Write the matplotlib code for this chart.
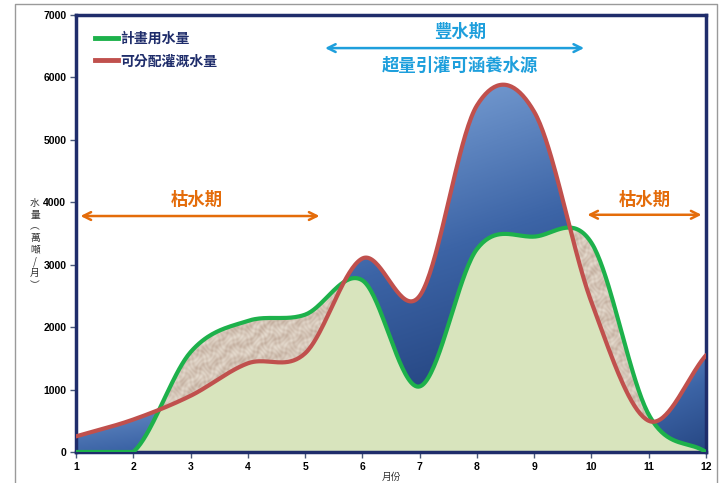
import numpy as np
import matplotlib.pyplot as plt
from matplotlib.colors import LinearSegmentedColormap
from matplotlib.lines import Line2D

plt.rcParams['font.family'] = ['Noto Sans CJK TC', 'DejaVu Sans']

months = [1, 2, 3, 4, 5, 6, 7, 8, 9, 10, 11, 12]
planned = [0, 0, 1600, 2100, 2200, 2750, 1050, 3250, 3450, 3350, 600, 0]      # 計畫用水量
available = [250, 520, 900, 1420, 1580, 3100, 2500, 5550, 5450, 2400, 500, 1550]  # 可分配灌溉水量
xticks = months
yticks = [0, 1000, 2000, 3000, 4000, 5000, 6000, 7000]

GREEN = '#1db14b'
RED = '#c0504d'
NAVY = '#1f2d6b'
ORANGE = '#e46c0a'
CYAN = '#1e9fdc'


def smooth(x, y, n=40):
    # Catmull-Rom style smoothing, like a spreadsheet "smoothed line"
    x = np.asarray(x, float)
    y = np.asarray(y, float)
    xs, ys = [], []
    for i in range(len(x) - 1):
        m0 = (y[i + 1] - y[i - 1]) / 2 if i > 0 else (y[i + 1] - y[i])
        m1 = (y[i + 2] - y[i]) / 2 if i + 2 < len(y) else (y[i + 1] - y[i])
        t = np.linspace(0, 1, n, endpoint=False)
        h00 = 2 * t**3 - 3 * t**2 + 1
        h10 = t**3 - 2 * t**2 + t
        h01 = -2 * t**3 + 3 * t**2
        h11 = t**3 - t**2
        xs.append(x[i] + t * (x[i + 1] - x[i]))
        ys.append(h00 * y[i] + h10 * m0 + h01 * y[i + 1] + h11 * m1)
    xs.append([x[-1]])
    ys.append([y[-1]])
    return np.concatenate(xs), np.clip(np.concatenate(ys), 0, None)


xs, g = smooth(months, planned)
_, r = smooth(months, available)

fig = plt.figure(figsize=(7.25, 4.83), dpi=100)
ax = fig.add_axes([76 / 725, 1 - 452 / 483, 630 / 725, 437 / 483])

# planned water area
ax.fill_between(xs, 0, g, color='#d8e4bd', lw=0, zorder=1)

# shortage: planned above available, paper-like texture
paper = LinearSegmentedColormap.from_list('pp', ['#bfa999', '#d6c7b9', '#ebe2d6'])
px, py = np.meshgrid(np.arange(640), np.arange(440))
tex = (np.sin(0.9 * px + 2.2 * np.sin(0.31 * py)) * np.sin(0.75 * py + 1.7 * np.sin(0.43 * px))
       + 0.6 * np.sin(0.23 * px - 0.37 * py + 1.3 * np.sin(0.17 * px)))
tan = ax.fill_between(xs, r, g, where=g >= r, interpolate=True, color='#d3c4b6', lw=0, zorder=2)
for p in tan.get_paths():
    im = ax.imshow(tex, cmap=paper, origin='lower', aspect='auto', alpha=0.8,
                   extent=[1, 12, 0, 7000], zorder=2, interpolation='bilinear')
    im.set_clip_path(p, transform=ax.transData)

# surplus: available above planned, each part with its own blue gradient
blue = LinearSegmentedColormap.from_list('bl', ['#1d3a74', '#3c64a6', '#80a6d9'])
shade = [(0.45, 0.8), (0.05, 1.0), (0.15, 0.75)]
over = r > g
idx = np.flatnonzero(np.diff(np.concatenate([[0], over.astype(int), [0]])))
for k, (a, b) in enumerate(zip(idx[::2], idx[1::2])):
    a0 = max(a - 1, 0)
    b0 = min(b + 1, len(xs))
    sx, sr, sg = xs[a0:b0], r[a0:b0], g[a0:b0]
    poly = ax.fill_between(sx, sg, sr, where=sr >= sg, interpolate=True,
                           color='none', lw=0, zorder=2)
    lo, hi = shade[min(k, len(shade) - 1)]
    vy = np.linspace(0, 1, 256)[:, None]
    vx = np.linspace(0, 1, 64)[None, :]
    grad = np.clip(0.8 * vy + 0.2 * (1 - vx), 0, 1)
    grad = lo + (hi - lo) * grad
    im = ax.imshow(grad, cmap=blue, origin='lower', aspect='auto',
                   extent=[sx[0], sx[-1], sg.min(), sr.max()], zorder=2, vmin=0, vmax=1)
    im.set_clip_path(poly.get_paths()[0], transform=ax.transData)
ax.set_xlim(1, 12)
ax.set_ylim(0, 7000)

ax.plot(xs, g, color=GREEN, lw=3, zorder=4, solid_capstyle='round')
ax.plot(xs, r, color=RED, lw=3, zorder=4, solid_capstyle='round')

for s in ax.spines.values():
    s.set_color(NAVY)
    s.set_linewidth(2.5)
ax.set_xticks(xticks)
ax.set_yticks(yticks)
ax.tick_params(length=4, width=1, color='#4a5a7a', labelsize=7.5, pad=3)
for lab in ax.get_xticklabels() + ax.get_yticklabels():
    lab.set_fontweight('bold')
    lab.set_family(['Liberation Sans Narrow', 'Liberation Sans'])

ax.set_xlabel('月份', fontsize=7, labelpad=0, color='#333333')
fig.text(35 / 725, 1 - 244 / 483, '水\n量\n︵\n萬\n噸\n/\n月\n︶', fontsize=7,
         ha='center', va='center', linespacing=1.2, color='#333333')

handles = [Line2D([], [], color=GREEN, lw=3.5), Line2D([], [], color=RED, lw=3.5)]
leg = ax.legend(handles, ['計畫用水量', '可分配灌溉水量'], loc='upper left',
                bbox_to_anchor=(0.011, 0.99), frameon=False, handlelength=1.6,
                handletextpad=0.2, labelspacing=0.6,
                prop={'weight': 'bold', 'size': 10})
for t in leg.get_texts():
    t.set_color(NAVY)

# dry / wet season annotations
arrow = dict(arrowstyle='<->', lw=1.8, mutation_scale=14)
ax.annotate('', xy=(9.92, 6470), xytext=(5.30, 6470),
            arrowprops=dict(arrow, color=CYAN), zorder=5)
ax.text(7.70, 6730, '豐水期', color=CYAN, fontsize=12.5, fontweight='bold',
        ha='center', va='center')
ax.text(7.70, 6180, '超量引灌可涵養水源', color=CYAN, fontsize=12.5,
        fontweight='bold', ha='center', va='center')

ax.annotate('', xy=(5.30, 3780), xytext=(1.03, 3780),
            arrowprops=dict(arrow, color=ORANGE), zorder=5)
ax.text(3.11, 4040, '枯水期', color=ORANGE, fontsize=12.5, fontweight='bold',
        ha='center', va='center')

ax.annotate('', xy=(11.97, 3800), xytext=(9.88, 3800),
            arrowprops=dict(arrow, color=ORANGE), zorder=5)
ax.text(10.93, 4040, '枯水期', color=ORANGE, fontsize=12.5, fontweight='bold',
        ha='center', va='center')

# thin frame around the chart
fx0, fx1, fy1 = 15 / 725, 717 / 725, 1 - 4 / 483
fig.add_artist(Line2D([fx0, fx0, fx1, fx1], [0, fy1, fy1, 0], color='#9a9a9a', lw=1))

fig.savefig('out.png', dpi=100)
